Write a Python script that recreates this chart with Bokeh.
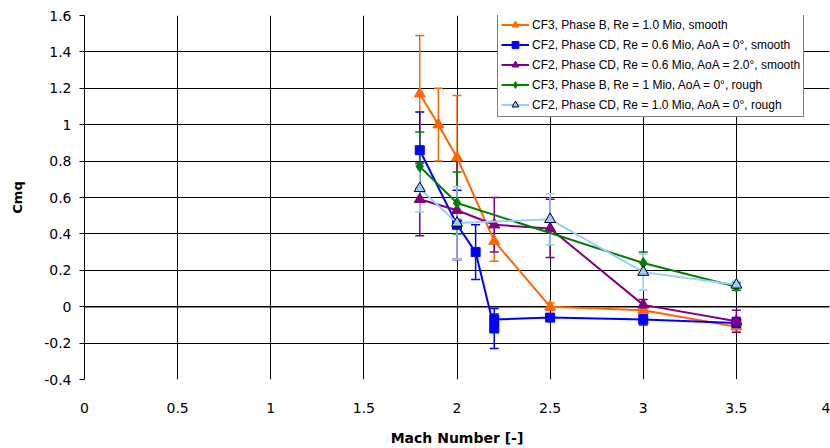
from bokeh.plotting import figure
from bokeh.models import ColumnDataSource, Whisker, TeeHead, FixedTicker, Span
from bokeh.embed import file_html
from bokeh.resources import INLINE

# ---- axis ticks ----
mach_ticks = [0, 0.5, 1, 1.5, 2, 2.5, 3, 3.5, 4]
mach_tick_labels = ["0", "0.5", "1", "1.5", "2", "2.5", "3", "3.5", "4"]
cmq_ticks = [-0.4, -0.2, 0, 0.2, 0.4, 0.6, 0.8, 1.0, 1.2, 1.4, 1.6]
cmq_tick_labels = ["-0.4", "-0.2", "0", "0.2", "0.4", "0.6", "0.8", "1", "1.2", "1.4", "1.6"]

# ---- series data ----
cf3_b_smooth_label = "CF3, Phase B, Re = 1.0 Mio, smooth"
cf3_b_smooth_mach = [1.8, 1.9, 2.0, 2.2, 2.5, 3.0, 3.5]
cf3_b_smooth_cmq = [1.17, 1.00, 0.82, 0.36, 0.00, -0.02, -0.11]
cf3_b_smooth_err = [0.32, 0.20, 0.34, 0.11, 0.02, 0.02, 0.03]

cf2_cd_06_aoa0_label = "CF2, Phase CD, Re = 0.6 Mio, AoA = 0°, smooth"
cf2_cd_06_aoa0_mach = [1.8, 2.0, 2.1, 2.2, 2.2, 2.5, 3.0, 3.5]
cf2_cd_06_aoa0_cmq = [0.86, 0.45, 0.30, -0.12, -0.07, -0.06, -0.07, -0.09]
cf2_cd_06_aoa0_err = [0.21, 0.19, 0.15, 0.11, 0.03, 0.02, 0.03, 0.03]

cf2_cd_06_aoa2_label = "CF2, Phase CD, Re = 0.6 Mio, AoA = 2.0°, smooth"
cf2_cd_06_aoa2_mach = [1.8, 2.0, 2.2, 2.5, 3.0, 3.5]
cf2_cd_06_aoa2_cmq = [0.59, 0.53, 0.45, 0.43, 0.01, -0.08]
cf2_cd_06_aoa2_err = [0.20, 0.27, 0.15, 0.16, 0.03, 0.06]

cf3_b_rough_label = "CF3, Phase B, Re = 1 Mio, AoA = 0°, rough"
cf3_b_rough_mach = [1.8, 2.0, 3.0, 3.5]
cf3_b_rough_cmq = [0.77, 0.57, 0.24, 0.11]
cf3_b_rough_err = [0.19, 0.17, 0.06, 0.02]

cf2_cd_10_rough_label = "CF2, Phase CD, Re = 1.0 Mio, AoA = 0°, rough"
cf2_cd_10_rough_mach = [1.8, 2.0, 2.5, 3.0, 3.5]
cf2_cd_10_rough_cmq = [0.65, 0.46, 0.48, 0.19, 0.12]
cf2_cd_10_rough_err = [0.13, 0.20, 0.14, 0.10, 0.02]

p = figure(width=830, height=448, x_range=(0, 4), y_range=(-0.4, 1.6),
           output_backend="svg", toolbar_location=None,
           min_border_left=84, min_border_right=1, min_border_top=15, min_border_bottom=69)
p.outline_line_color = None
p.background_fill_color = "white"

# grids
p.xgrid.ticker = FixedTicker(ticks=mach_ticks)
p.ygrid.ticker = FixedTicker(ticks=cmq_ticks)
for g in (p.xgrid, p.ygrid):
    g.grid_line_color = "black"
    g.grid_line_alpha = 1.0
    g.grid_line_width = 1

# x axis
p.xaxis.ticker = FixedTicker(ticks=mach_ticks)
p.xaxis.major_label_overrides = {t: l for t, l in zip(mach_ticks, mach_tick_labels)}
p.xaxis.axis_line_color = None
p.xaxis.major_tick_line_color = None
p.xaxis.minor_tick_line_color = None
p.xaxis.major_label_standoff = 17
p.xaxis.axis_label = "Mach Number [-]"
p.xaxis.axis_label_standoff = 14

# y axis
p.yaxis.ticker = FixedTicker(ticks=cmq_ticks)
p.yaxis.major_label_overrides = {t: l for t, l in zip(cmq_ticks, cmq_tick_labels)}
p.yaxis.axis_line_color = "black"
p.yaxis.axis_line_width = 1
p.yaxis.major_tick_line_color = "black"
p.yaxis.major_tick_out = 5
p.yaxis.major_tick_in = 0
p.yaxis.minor_tick_line_color = None
p.yaxis.major_label_standoff = 8
p.yaxis.axis_label = "Cmq"
p.yaxis.axis_label_standoff = 16

for ax in (p.xaxis[0], p.yaxis[0]):
    ax.major_label_text_font = "DejaVu Sans"
    ax.major_label_text_font_size = "14px"
    ax.major_label_text_color = "black"
    ax.axis_label_text_font = "DejaVu Sans"
    ax.axis_label_text_font_style = "bold"
    ax.axis_label_text_color = "black"
p.xaxis.axis_label_text_font_size = "14px"
p.yaxis.axis_label_text_font_size = "13px"

zero = Span(location=0, dimension="width", line_color="black", line_width=1.5, level="underlay")
p.add_layout(zero)

series = [
    (cf3_b_smooth_label, cf3_b_smooth_mach, cf3_b_smooth_cmq, cf3_b_smooth_err, "#FF6600", "triangle", 11, "#FF6600", "#FF6600"),
    (cf2_cd_06_aoa0_label, cf2_cd_06_aoa0_mach, cf2_cd_06_aoa0_cmq, cf2_cd_06_aoa0_err, "#0000FF", "square", 9, "#0000FF", "#0000FF"),
    (cf2_cd_06_aoa2_label, cf2_cd_06_aoa2_mach, cf2_cd_06_aoa2_cmq, cf2_cd_06_aoa2_err, "#800080", "triangle", 11, "#800080", "#800080"),
    (cf3_b_rough_label, cf3_b_rough_mach, cf3_b_rough_cmq, cf3_b_rough_err, "#008000", "diamond", 11, "#008000", "#008000"),
    (cf2_cd_10_rough_label, cf2_cd_10_rough_mach, cf2_cd_10_rough_cmq, cf2_cd_10_rough_err, "#99CCFF", "triangle", 11, "#99CCFF", "black"),
]

for label, xs, ys, errs, color, marker, size, fill, outline in series:
    src = ColumnDataSource(dict(
        x=xs, y=ys,
        hi=[y + e for y, e in zip(ys, errs)],
        lo=[y - e for y, e in zip(ys, errs)],
    ))
    w = Whisker(source=src, base="x", upper="hi", lower="lo",
                line_color=color, line_width=1.5,
                upper_head=TeeHead(size=9, line_color=color, line_width=1.5),
                lower_head=TeeHead(size=9, line_color=color, line_width=1.5))
    p.add_layout(w)
    p.line("x", "y", source=src, line_color=color, line_width=2, legend_label=label)
    p.scatter("x", "y", source=src, marker=marker, size=size, fill_color=fill,
              line_color=outline, line_width=1, legend_label=label)

lg = p.legend[0]
lg.location = (413, 262)
lg.margin = 0
lg.padding = 3
lg.spacing = 3
lg.label_height = 17
lg.glyph_height = 17
lg.glyph_width = 28
lg.label_standoff = 3
lg.border_line_color = "black"
lg.border_line_width = 1
lg.background_fill_color = "white"
lg.background_fill_alpha = 1.0
lg.label_text_font = "Liberation Sans"
lg.label_text_font_size = "12px"
lg.label_text_color = "black"

open("out.html", "w").write(file_html(p, INLINE))
